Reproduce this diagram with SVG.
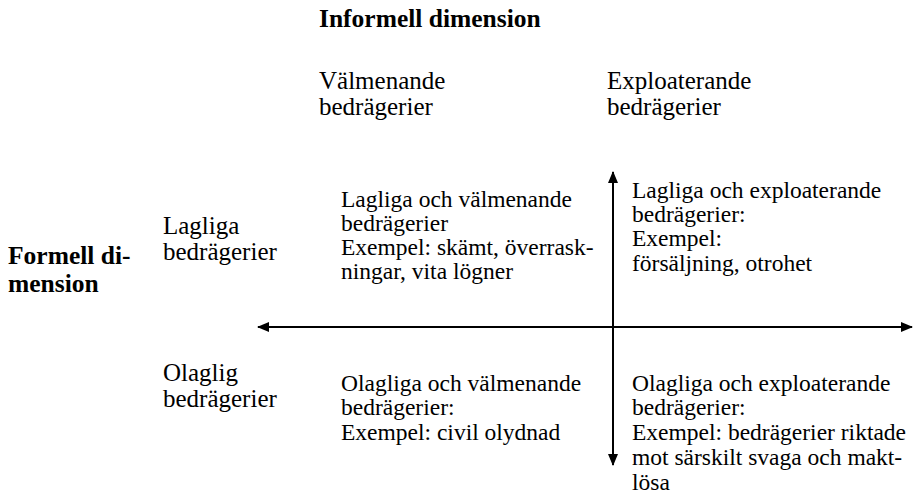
<svg xmlns="http://www.w3.org/2000/svg" width="916" height="498" viewBox="0 0 916 498">
<style>
text{font-family:"Liberation Serif","Times New Roman",Times,serif;font-size:25px;fill:#000}
.b{font-weight:bold;font-size:25.5px}
.q{font-size:23.5px}
.ax{stroke:#000;stroke-width:2;fill:none}
</style>
<defs>
<marker id="ah" viewBox="0 0 12 10" refX="11" refY="5" markerWidth="12" markerHeight="10" orient="auto-start-reverse" markerUnits="userSpaceOnUse">
<path d="M0,0 L12,5 L0,10 Z" fill="#000"/>
</marker>
</defs>
<rect width="916" height="498" fill="#fff"/>
<g id="connectors">
<line class="ax" x1="258" y1="327" x2="912" y2="327" marker-start="url(#ah)" marker-end="url(#ah)"/>
<line class="ax" x1="613" y1="172" x2="613" y2="465" marker-start="url(#ah)" marker-end="url(#ah)"/>
</g>
<g id="title-informell"><text class="b" x="319" y="27">Informell dimension</text></g>
<g id="col-valmenande"><text x="319" y="89">Välmenande<tspan x="319" dy="26">bedrägerier</tspan></text></g>
<g id="col-exploaterande"><text x="607" y="89">Exploaterande<tspan x="607" dy="26">bedrägerier</tspan></text></g>
<g id="title-formell"><text class="b" x="8" y="264">Formell di-<tspan x="8" dy="28">mension</tspan></text></g>
<g id="row-lagliga"><text x="163" y="234">Lagliga<tspan x="163" dy="26">bedrägerier</tspan></text></g>
<g id="row-olaglig"><text x="163" y="381">Olaglig<tspan x="163" dy="26">bedrägerier</tspan></text></g>
<g id="q1"><text class="q" x="341" y="207">Lagliga och välmenande<tspan x="341" dy="24">bedrägerier</tspan><tspan x="341" dy="24">Exempel: skämt, överrask-</tspan><tspan x="341" dy="24">ningar, vita lögner</tspan></text></g>
<g id="q2"><text class="q" x="632" y="198">Lagliga och exploaterande<tspan x="632" dy="24">bedrägerier:</tspan><tspan x="632" dy="24">Exempel:</tspan><tspan x="632" dy="25">försäljning, otrohet</tspan></text></g>
<g id="q3"><text class="q" x="341" y="391">Olagliga och välmenande<tspan x="341" dy="24">bedrägerier:</tspan><tspan x="341" dy="25">Exempel: civil olydnad</tspan></text></g>
<g id="q4"><text class="q" x="632" y="391">Olagliga och exploaterande<tspan x="632" dy="24">bedrägerier:</tspan><tspan x="632" dy="25">Exempel: bedrägerier riktade</tspan><tspan x="632" dy="25">mot särskilt svaga och makt-</tspan><tspan x="632" dy="25">lösa</tspan></text></g>
</svg>
